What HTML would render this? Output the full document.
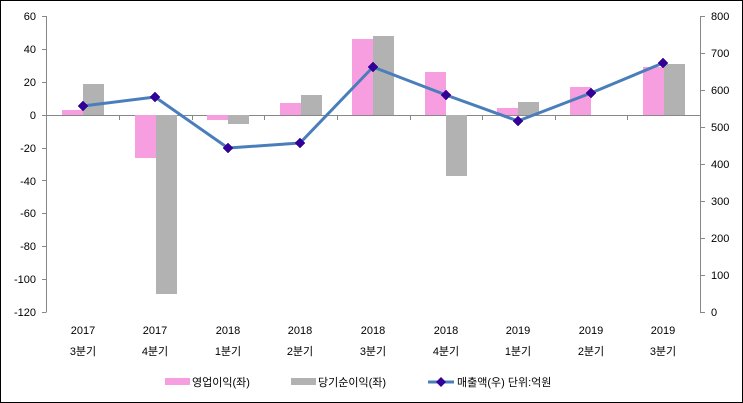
<!DOCTYPE html>
<html><head><meta charset="utf-8"><style>
body{margin:0;background:#fff}
svg{display:block}
text{font-family:"Liberation Sans","Noto Sans CJK KR",sans-serif;font-size:11px;fill:#000}
</style></head><body>
<svg width="743" height="403" viewBox="0 0 743 403" xmlns="http://www.w3.org/2000/svg">
<rect x="0.5" y="0.5" width="742" height="402" fill="#fff" stroke="#000"/>
<g id="bars"></g>
<!-- axes -->
<g stroke="#888" stroke-width="1" fill="none">
<line x1="46.5" y1="16" x2="46.5" y2="312"/>
<line x1="700.5" y1="16" x2="700.5" y2="312"/>
<line x1="46.5" y1="115.5" x2="700.5" y2="115.5"/>
<path d="M42 16.5h4.5M42 49.5h4.5M42 82.5h4.5M42 115.5h4.5M42 148.5h4.5M42 180.5h4.5M42 213.5h4.5M42 246.5h4.5M42 279.5h4.5M42 312.5h4.5"/>
<path d="M700 16.5h5M700 53.5h5M700 90.5h5M700 127.5h5M700 164.5h5M700 201.5h5M700 238.5h5M700 275.5h5M700 312.5h5"/>
<path d="M119.5 115v5M192.5 115v5M264.5 115v5M337.5 115v5M410.5 115v5M482.5 115v5M555.5 115v5M627.5 115v5"/>
</g>
<g text-anchor="end">
<text x="36" y="20">60</text><text x="36" y="53">40</text><text x="36" y="86">20</text><text x="36" y="119">0</text>
<text x="36" y="152">-20</text><text x="36" y="185">-40</text><text x="36" y="217">-60</text><text x="36" y="250">-80</text>
<text x="36" y="283">-100</text><text x="36" y="316">-120</text>
</g>
<g>
<text x="711" y="20">800</text><text x="711" y="57">700</text><text x="711" y="94">600</text><text x="711" y="131">500</text>
<text x="711" y="168">400</text><text x="711" y="205">300</text><text x="711" y="242">200</text><text x="711" y="279">100</text><text x="711" y="316">0</text>
</g>
<g id="cats" text-anchor="middle"></g>
<!-- bars -->
<g>
<rect x="62" y="110" width="21" height="5" fill="#f79ee0"/><rect x="83" y="84" width="21" height="31" fill="#b2b2b2"/>
<rect x="135" y="115" width="21" height="43" fill="#f79ee0"/><rect x="156" y="115" width="21" height="179" fill="#b2b2b2"/>
<rect x="207" y="115" width="21" height="5" fill="#f79ee0"/><rect x="228" y="115" width="21" height="9" fill="#b2b2b2"/>
<rect x="280" y="103" width="21" height="12" fill="#f79ee0"/><rect x="301" y="95" width="21" height="20" fill="#b2b2b2"/>
<rect x="352" y="39" width="21" height="76" fill="#f79ee0"/><rect x="373" y="36" width="21" height="79" fill="#b2b2b2"/>
<rect x="425" y="72" width="21" height="43" fill="#f79ee0"/><rect x="446" y="115" width="21" height="61" fill="#b2b2b2"/>
<rect x="497" y="108" width="21" height="7" fill="#f79ee0"/><rect x="518" y="102" width="21" height="13" fill="#b2b2b2"/>
<rect x="570" y="87" width="21" height="28" fill="#f79ee0"/>
<rect x="643" y="67" width="21" height="48" fill="#f79ee0"/><rect x="664" y="64" width="21" height="51" fill="#b2b2b2"/>
</g>
<polyline points="83,106 155,97 228,148 300,143 373,67 446,95 518,121 591,93 663,63" fill="none" stroke="#4a7ebb" stroke-width="3" stroke-linejoin="round"/>
<g fill="#330099" stroke="#2a0080" stroke-width="0.5">
<path d="M83 101l5 5-5 5-5-5z"/><path d="M155 92l5 5-5 5-5-5z"/><path d="M228 143l5 5-5 5-5-5z"/>
<path d="M300 138l5 5-5 5-5-5z"/><path d="M373 62l5 5-5 5-5-5z"/><path d="M446 90l5 5-5 5-5-5z"/>
<path d="M518 116l5 5-5 5-5-5z"/><path d="M591 88l5 5-5 5-5-5z"/><path d="M663 58l5 5-5 5-5-5z"/>
</g>
<g text-anchor="middle">
<text x="83" y="334">2017</text><text x="83" y="355">3분기</text>
<text x="155" y="334">2017</text><text x="155" y="355">4분기</text>
<text x="228" y="334">2018</text><text x="228" y="355">1분기</text>
<text x="300" y="334">2018</text><text x="300" y="355">2분기</text>
<text x="373" y="334">2018</text><text x="373" y="355">3분기</text>
<text x="446" y="334">2018</text><text x="446" y="355">4분기</text>
<text x="518" y="334">2019</text><text x="518" y="355">1분기</text>
<text x="591" y="334">2019</text><text x="591" y="355">2분기</text>
<text x="663" y="334">2019</text><text x="663" y="355">3분기</text>
</g>
<rect x="165" y="378" width="25" height="7" fill="#f79ee0"/>
<text x="192" y="386">영업이익(좌)</text>
<rect x="291" y="378" width="25" height="7" fill="#b2b2b2"/>
<text x="318" y="386">당기순이익(좌)</text>
<line x1="428" y1="382" x2="454" y2="382" stroke="#4a7ebb" stroke-width="3"/>
<path d="M441 377l5 5-5 5-5-5z" fill="#330099"/>
<text x="457" y="386">매출액(우)  단위:억원</text>
</svg>
</body></html>
